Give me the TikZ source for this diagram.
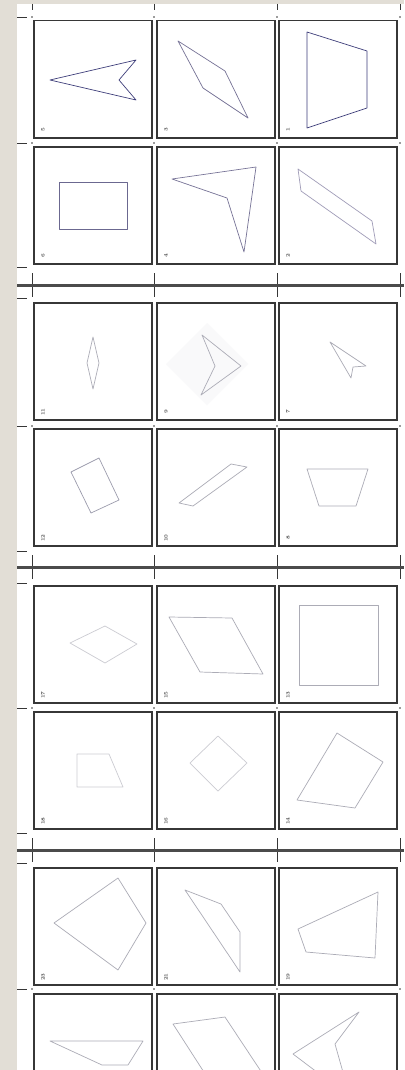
\documentclass[tikz,border=0pt]{standalone}
\usepackage{tikz}

\definecolor{stone}{RGB}{226,222,214}
\definecolor{frame}{RGB}{55,55,55}
\definecolor{navy}{RGB}{62,62,122}
\definecolor{slate}{RGB}{118,114,150}
\definecolor{lilac}{RGB}{160,156,184}
\definecolor{pale}{RGB}{172,172,182}
\definecolor{faint}{RGB}{204,204,210}
\definecolor{haze}{RGB}{249,249,250}

\begin{document}
\begin{tikzpicture}[x=1pt, y=-1pt,
	card/.style = {draw=frame, line width=1.5pt, fill=white,
		minimum width=118pt, minimum height=117pt, anchor=north west, inner sep=0pt},
	tag/.style = {font=\fontsize{5}{5}\selectfont\bfseries, rotate=90, inner sep=0pt, text=black!70},
	figline/.style = {line width=0.7pt, line join=round},
	tickmark/.style = {draw=frame, line width=0.8pt},
	bar/.style = {draw=frame!90, line width=3pt}]

\clip (0,0) rectangle (404,1070);
\fill[stone] (0,0) rectangle (404,1070);
\fill[white] (17,4) rectangle (404,1070);

% ticks and rulers
\foreach \x in {32,154,277,400} {
	\draw[tickmark] (\x,4) -- (\x,10);
	\foreach \y in {285,567,850}
		\draw[tickmark] (\x,\y-12) -- (\x,\y+12);
	\foreach \y in {17,143,426,708,989}
		\fill[frame] (\x,\y) circle (0.9);
}
\foreach \y in {285,567,850}
	\draw[bar] (17,\y) -- (404,\y);
\foreach \y in {17,143,267,298,426,551,583,708,833,863,989}
	\draw[tickmark] (17,\y) -- (27,\y);

% cards
\foreach \n/\x/\y in {5/33/20, 3/156/20, 1/278/20,
		6/33/146, 4/156/146, 2/278/146,
		11/33/302, 9/156/302, 7/278/302,
		12/33/428, 10/156/428, 8/278/428,
		17/33/585, 15/156/585, 13/278/585,
		18/33/711, 16/156/711, 14/278/711,
		23/33/867, 21/156/867, 19/278/867} {
	\node[card] (c\n) at (\x,\y) {};
	\node[tag] (t\n) at ([shift={(10,110)}]c\n.north west) {\n};
}
\foreach \n/\x in {24/33, 22/156, 20/278}
	\node[card] (c\n) at (\x,993) {};

% figures
\begin{scope}[shift={(c5.north west)}]
	\draw[figline, navy] (17,60) -- (103,40) -- (86,60) -- (103,80) -- cycle;
\end{scope}
\begin{scope}[shift={(c3.north west)}]
	\draw[figline, slate] (22,21) -- (69,51) -- (92,98) -- (47,68) -- cycle;
\end{scope}
\begin{scope}[shift={(c1.north west)}]
	\draw[figline, navy] (29,12) -- (89,31) -- (89,88) -- (29,108) -- cycle;
\end{scope}
\begin{scope}[shift={(c6.north west)}]
	\draw[figline, slate!80!navy] (26,36) rectangle (94,83);
\end{scope}
\begin{scope}[shift={(c4.north west)}]
	\draw[figline, slate] (16,33) -- (100,21) -- (88,106) -- (71,52) -- cycle;
\end{scope}
\begin{scope}[shift={(c2.north west)}]
	\draw[figline, lilac] (20,23) -- (94,75) -- (98,98) -- (23,45) -- cycle;
\end{scope}
\begin{scope}[shift={(c11.north west)}]
	\draw[figline, pale] (60,35) -- (66,61) -- (60,87) -- (54,61) -- cycle;
\end{scope}
\begin{scope}[shift={(c9.north west)}]
	\fill[haze] (51,21) -- (92,62) -- (51,103) -- (10,62) -- cycle;
	\draw[figline, pale] (46,33) -- (85,64) -- (45,93) -- (59,64) -- cycle;
\end{scope}
\begin{scope}[shift={(c7.north west)}]
	\draw[figline, pale] (52,40) -- (88,64) -- (75,65) -- (73,76) -- cycle;
\end{scope}
\begin{scope}[shift={(c12.north west)}]
	\draw[figline, pale!85!navy] (38,44) -- (66,30) -- (86,72) -- (58,85) -- cycle;
\end{scope}
\begin{scope}[shift={(c10.north west)}]
	\draw[figline, pale] (23,75) -- (75,36) -- (91,39) -- (37,78) -- cycle;
\end{scope}
\begin{scope}[shift={(c8.north west)}]
	\draw[figline, pale] (29,41) -- (90,41) -- (78,78) -- (41,78) -- cycle;
\end{scope}
\begin{scope}[shift={(c17.north west)}]
	\draw[figline, faint] (37,58) -- (72,41) -- (104,59) -- (72,78) -- cycle;
\end{scope}
\begin{scope}[shift={(c15.north west)}]
	\draw[figline, pale] (13,32) -- (76,33) -- (107,89) -- (44,87) -- cycle;
\end{scope}
\begin{scope}[shift={(c13.north west)}]
	\draw[figline, pale] (21,20) rectangle (100,100);
\end{scope}
\begin{scope}[shift={(c18.north west)}]
	\draw[figline, faint] (44,43) -- (76,43) -- (90,76) -- (44,76) -- cycle;
\end{scope}
\begin{scope}[shift={(c16.north west)}]
	\draw[figline, faint] (62,25) -- (91,52) -- (62,80) -- (34,52) -- cycle;
\end{scope}
\begin{scope}[shift={(c14.north west)}]
	\draw[figline, pale] (59,22) -- (105,51) -- (77,97) -- (19,89) -- cycle;
\end{scope}
\begin{scope}[shift={(c23.north west)}]
	\draw[figline, pale] (85,11) -- (113,56) -- (85,103) -- (21,56) -- cycle;
\end{scope}
\begin{scope}[shift={(c21.north west)}]
	\draw[figline, pale] (29,23) -- (65,37) -- (84,65) -- (84,105) -- cycle;
\end{scope}
\begin{scope}[shift={(c19.north west)}]
	\draw[figline, pale] (20,62) -- (100,25) -- (97,91) -- (28,85) -- cycle;
\end{scope}
\begin{scope}[shift={(c24.north west)}]
	\draw[figline, pale] (17,48) -- (110,48) -- (95,72) -- (69,72) -- cycle;
\end{scope}
\begin{scope}[shift={(c22.north west)}]
	\draw[figline, pale] (17,31) -- (69,24) -- (118,98) -- (64,104) -- cycle;
\end{scope}
\begin{scope}[shift={(c20.north west)}]
	\draw[figline, pale] (81,19) -- (57,51) -- (72,104) -- (15,61) -- cycle;
\end{scope}
\end{tikzpicture}
\end{document}
